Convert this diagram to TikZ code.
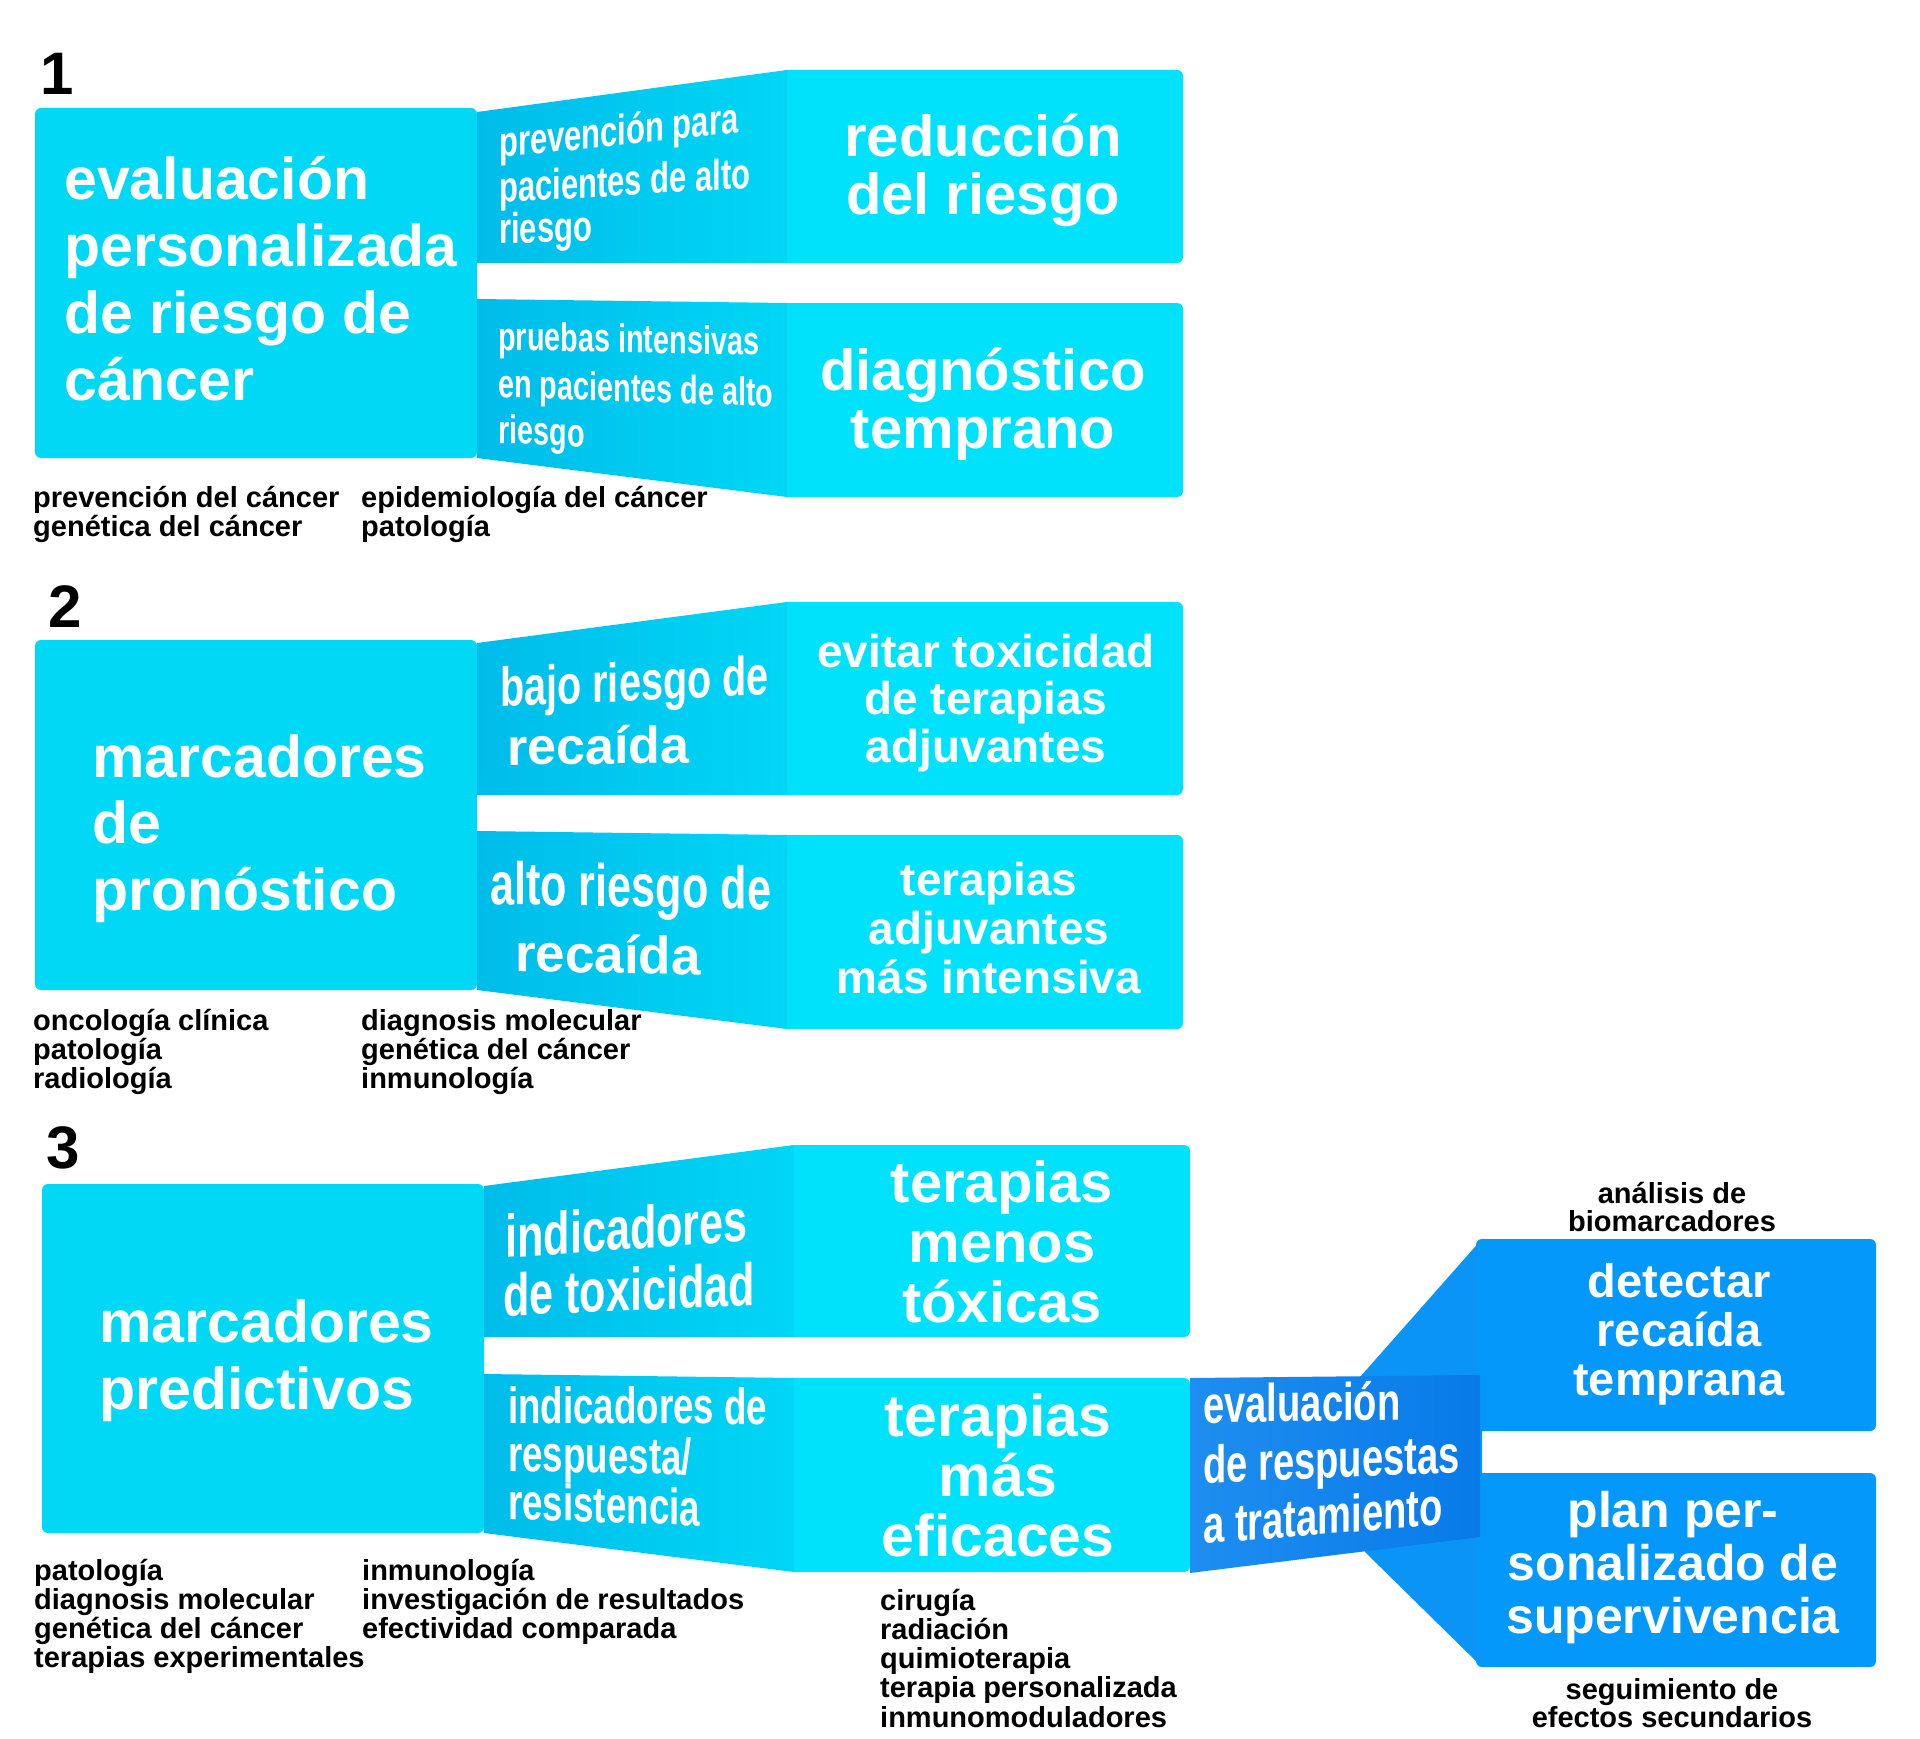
\documentclass[tikz,border=0pt]{standalone}
\usepackage{fontspec}
\newfontfamily\mainf{Liberation Sans}
\newfontfamily\condf{Liberation Sans}[FakeStretch=0.72]
\definecolor{cbox}{RGB}{0,216,245}
\definecolor{cboxR}{RGB}{0,225,252}
\definecolor{trapL}{RGB}{0,188,234}
\definecolor{trapR}{RGB}{0,214,245}
\definecolor{bfan}{RGB}{10,148,245}
\definecolor{bbox}{RGB}{3,152,250}
\definecolor{evalL}{RGB}{30,142,240}
\definecolor{evalR}{RGB}{8,122,232}
\newcommand\mlL[2]{\vtop{\baselineskip=#1pt\lineskiplimit=-1000pt\lineskip=0pt\halign{##\hfil\cr#2\crcr}}}
\newcommand\mlC[2]{\vtop{\baselineskip=#1pt\lineskiplimit=-1000pt\lineskip=0pt\halign{\hfil##\hfil\cr#2\crcr}}}
\newcommand\cf[1]{\condf\bfseries\fontsize{#1pt}{#1pt}\selectfont}
\newcommand\nf[1]{\mainf\bfseries\fontsize{#1pt}{#1pt}\selectfont}
\newcommand\sline[5]{\begin{scope}[shift={(#2,#3)},yslant=#4]\node[txt,anchor=base west,transform shape] (#1) at (0,0) {#5};\end{scope}}
\tikzset{
  txt/.style={inner sep=0pt, text=white, font=\mainf\bfseries},
  lab/.style={inner sep=0pt, text=black, font=\nf{29}},
  num/.style={inner sep=0pt, text=black, font=\nf{60}, anchor=base west},
  lbox/.style={fill=cbox, rounded corners=6},
  rbox/.style={fill=cboxR, rounded corners=6},
  trap/.style={left color=trapL, right color=trapR},
  bluebox/.style={fill=bbox, rounded corners=6},
}
\begin{document}
\begin{tikzpicture}[x=1pt,y=-1pt]
\fill[white] (0,0) rectangle (1920,1739);
\useasboundingbox (0,0) rectangle (1920,1739);

% ---------- section 1
\node[num] (n1) at (40,95) {1};
\fill[lbox] (35,108) rectangle (477,458);
\fill[rbox] (781,70) rectangle (1183,263);
\fill[rbox] (781,303) rectangle (1183,497);
\shade[trap] (477,112) -- (787,70) -- (787,263) -- (477,263) -- cycle;
\shade[trap] (477,299) -- (787,303) -- (787,497) -- (477,458) -- cycle;
\node[txt, font=\nf{59}, anchor=base west] (t1) at (64,200) {\mlL{66.7}{evaluación\cr personalizada\cr de riesgo de\cr cáncer}};
\sline{u1a}{499}{158}{0.105}{\cf{43}prevención para}
\sline{u1b}{499}{203}{0.06}{\cf{43}pacientes de alto}
\sline{u1c}{499}{244}{0.03}{\cf{43}riesgo}
\sline{l1a}{498}{350}{-0.02}{\cf{40}pruebas intensivas}
\sline{l1b}{498}{397}{-0.035}{\cf{40}en pacientes de alto}
\sline{l1c}{498}{443}{-0.05}{\cf{40}riesgo}
\node[txt, font=\nf{58}, anchor=base] (r1) at (983,157) {\mlC{58}{reducción\cr del riesgo}};
\node[txt, font=\nf{58}, anchor=base] (r2) at (983,390) {\mlC{58}{diagnóstico\cr temprano}};
\node[lab, anchor=base west] (a1) at (33,507) {\mlL{29}{prevención del cáncer\cr genética del cáncer}};
\node[lab, anchor=base west] (a2) at (361,507) {\mlL{29}{epidemiología del cáncer\cr patología}};

% ---------- section 2
\node[num] (n2) at (48,627) {2};
\fill[lbox] (35,640) rectangle (477,990);
\fill[rbox] (781,602) rectangle (1183,795);
\fill[rbox] (781,835) rectangle (1183,1029);
\shade[trap] (477,643) -- (787,602) -- (787,795) -- (477,795) -- cycle;
\shade[trap] (477,831) -- (787,835) -- (787,1029) -- (477,990) -- cycle;
\node[txt, font=\nf{59}, anchor=base west] (t2) at (92,777) {\mlL{66.5}{marcadores\cr de\cr pronóstico}};
\sline{u2a}{500}{707}{0.045}{\cf{55}bajo riesgo de}
\sline{u2b}{507}{765}{0.01}{\nf{52}recaída}
\sline{l2a}{490}{904}{-0.02}{\cf{60}alto riesgo de}
\sline{l2b}{515}{971}{-0.02}{\nf{53}recaída}
\node[txt, font=\nf{46}, anchor=base] (r3) at (986,667) {\mlC{47.5}{evitar toxicidad\cr de terapias\cr adjuvantes}};
\node[txt, font=\nf{46}, anchor=base] (r4) at (989,895) {\mlC{49}{terapias\cr adjuvantes\cr más intensiva}};
\node[lab, anchor=base west] (a3) at (33,1030) {\mlL{29}{oncología clínica\cr patología\cr radiología}};
\node[lab, anchor=base west] (a4) at (361,1030) {\mlL{29}{diagnosis molecular\cr genética del cáncer\cr inmunología}};

% ---------- section 3
\node[num] (n3) at (46,1168) {3};
\fill[lbox] (42,1184) rectangle (484,1533);
\fill[rbox] (788,1145) rectangle (1190,1337);
\fill[rbox] (788,1378) rectangle (1190,1572);
\shade[trap] (484,1186) -- (794,1145) -- (794,1337) -- (484,1337) -- cycle;
\shade[trap] (484,1374) -- (794,1378) -- (794,1572) -- (484,1533) -- cycle;
\node[txt, font=\nf{59}, anchor=base west] (t3) at (99,1342) {\mlL{67.5}{marcadores\cr predictivos}};
\sline{u3a}{505}{1258}{0.07}{\cf{60}indicadores}
\sline{u3b}{503}{1316}{0.04}{\cf{60}de toxicidad}
\sline{l3a}{508}{1423}{-0.005}{\cf{51}indicadores de}
\sline{l3b}{508}{1471}{-0.02}{\cf{51}respuesta/}
\sline{l3c}{508}{1519}{-0.035}{\cf{51}resistencia}
\node[txt, font=\nf{58}, anchor=base] (r5) at (1002,1202) {\mlC{60}{terapias\cr menos\cr tóxicas}};
\node[txt, font=\nf{59}, anchor=base] (r6) at (998,1436) {\mlC{60}{terapias\cr más\cr eficaces}};
\node[lab, anchor=base west] (a5) at (34,1580) {\mlL{29}{patología\cr diagnosis molecular\cr genética del cáncer\cr terapias experimentales}};
\node[lab, anchor=base west] (a6) at (362,1580) {\mlL{29}{inmunología\cr investigación de resultados\cr efectividad comparada}};
\node[lab, anchor=base west] (a7) at (880,1610) {\mlL{29.3}{cirugía\cr radiación\cr quimioterapia\cr terapia personalizada\cr inmunomoduladores}};

% ---------- blue branch
\fill[bfan] (1360,1377) -- (1482,1239) -- (1482,1667) -- (1365,1552) -- cycle;
\fill[bluebox] (1476,1239) rectangle (1876,1431);
\fill[bluebox] (1476,1473) rectangle (1876,1667);
\shade[left color=evalL, right color=evalR] (1190,1378) -- (1480,1375) -- (1480,1537) -- (1190,1573) -- cycle;
\sline{e1}{1203}{1423}{0.016}{\cf{53}evaluación}
\sline{e2}{1203}{1483}{0.04}{\cf{53}de respuestas}
\sline{e3}{1203}{1544}{0.08}{\cf{53}a tratamiento}
\node[txt, font=\nf{47}, anchor=base] (b1) at (1679,1297) {\mlC{49}{detectar\cr recaída\cr temprana}};
\node[txt, font=\nf{50}, anchor=base] (b2) at (1673,1527) {\mlC{53}{plan per-\cr sonalizado de\cr supervivencia}};
\node[lab, anchor=base] (a8) at (1672,1203) {\mlC{28.5}{análisis de\cr biomarcadores}};
\node[lab, anchor=base] (a9) at (1672,1699) {\mlC{28.5}{seguimiento de\cr efectos secundarios}};
\end{tikzpicture}
\end{document}
